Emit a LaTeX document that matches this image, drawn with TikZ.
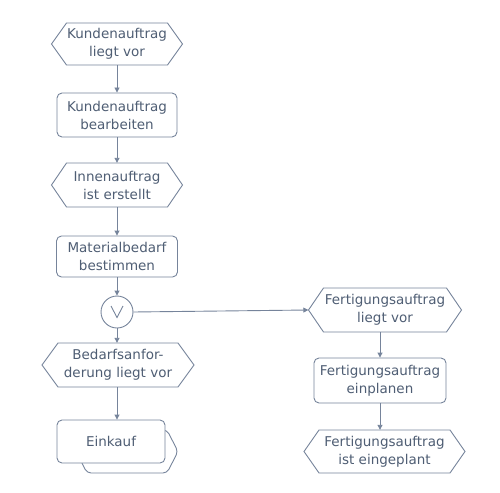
\documentclass[tikz,border=0pt]{standalone}
\usepackage{fontspec}
\setmainfont{DejaVu Sans}
\usetikzlibrary{arrows.meta,calc}
\definecolor{lc}{HTML}{76849B}
\definecolor{tc}{HTML}{4F5E74}
\tikzset{
  every node/.style={text=tc, font=\fontsize{13.5}{18}\selectfont, align=center, inner sep=0pt},
  boxnode/.style={draw=lc, line width=0.9pt, rounded corners=5pt, fill=white},
  conn/.style={draw=lc, line width=0.9pt, -{Triangle[length=5pt,width=5pt]}},
  outl/.style={draw=lc, line width=0.9pt, fill=white},
}
% hexagon: name, cx, cy, w, h, depth, text
\newcommand{\hexa}[7]{%
  \path[outl] (#2-#4/2,#3) -- (#2-#4/2+#6,#3-#5/2) -- (#2+#4/2-#6,#3-#5/2) -- (#2+#4/2,#3)
     -- (#2+#4/2-#6,#3+#5/2) -- (#2-#4/2+#6,#3+#5/2) -- cycle;
  \node[minimum width=#4, minimum height=#5] (#1) at (#2,#3) {#7};
}
\begin{document}
\begin{tikzpicture}[x=1pt,y=-1pt]
\useasboundingbox (0,0) rectangle (500,492);

\hexa{h1}{117}{44}{131}{42}{15}{Kundenauftrag\\liegt vor}
\node[boxnode, minimum width=120, minimum height=44] (b2) at (117,115) {Kundenauftrag\\bearbeiten};
\hexa{h3}{117}{185}{131}{44}{15}{Innenauftrag\\ist erstellt}
\node[boxnode, minimum width=121, minimum height=41] (b4) at (117,256.5) {Materialbedarf\\bestimmen};
\node[draw=lc, line width=0.9pt, circle, minimum size=32] (c) at (117,312) {};
\draw[lc, line width=0.9pt] ($(c.center)+(-6,-6)$) coordinate (v1) -- ++(6,11.5) coordinate (v2) -- ++(6,-11.5) coordinate (v3);
\hexa{h5}{118}{365}{152}{44}{16}{Bedarfsanfor-\\derung liegt vor}

% Einkauf (process interface)
\path[outl, rounded corners=4pt] (76,451.5) -- (87,430) -- (167,430) -- (178,451.5) -- (167,473) -- (87,473) -- cycle;
\node[boxnode, minimum width=108, minimum height=43] (ein) at (111,441.5) {Einkauf};

\hexa{h6}{385}{310}{153}{44}{15}{Fertigungsauftrag\\liegt vor}
\node[boxnode, minimum width=132, minimum height=45] (b7) at (380,380.5) {Fertigungsauftrag\\einplanen};
\hexa{h8}{384.5}{451.5}{161}{43}{15}{Fertigungsauftrag\\ist eingeplant}

\draw[conn] (h1.south) -- (b2.north);
\draw[conn] (b2.south) -- (h3.north -| b2.south);
\draw[conn] (h3.south) -- (b4.north -| h3.south);
\draw[conn] (b4.south -| c.north) -- (c.north);
\draw[conn] (c.south) -- (h5.north -| c.south);
\draw[conn] (h5.south -| c.south) -- (ein.north -| c.south);
\draw[conn] (c.east) -- (h6.west);
\draw[conn] (h6.south -| b7.north) -- (b7.north);
\draw[conn] (b7.south) -- (h8.north -| b7.south);
\end{tikzpicture}
\end{document}
